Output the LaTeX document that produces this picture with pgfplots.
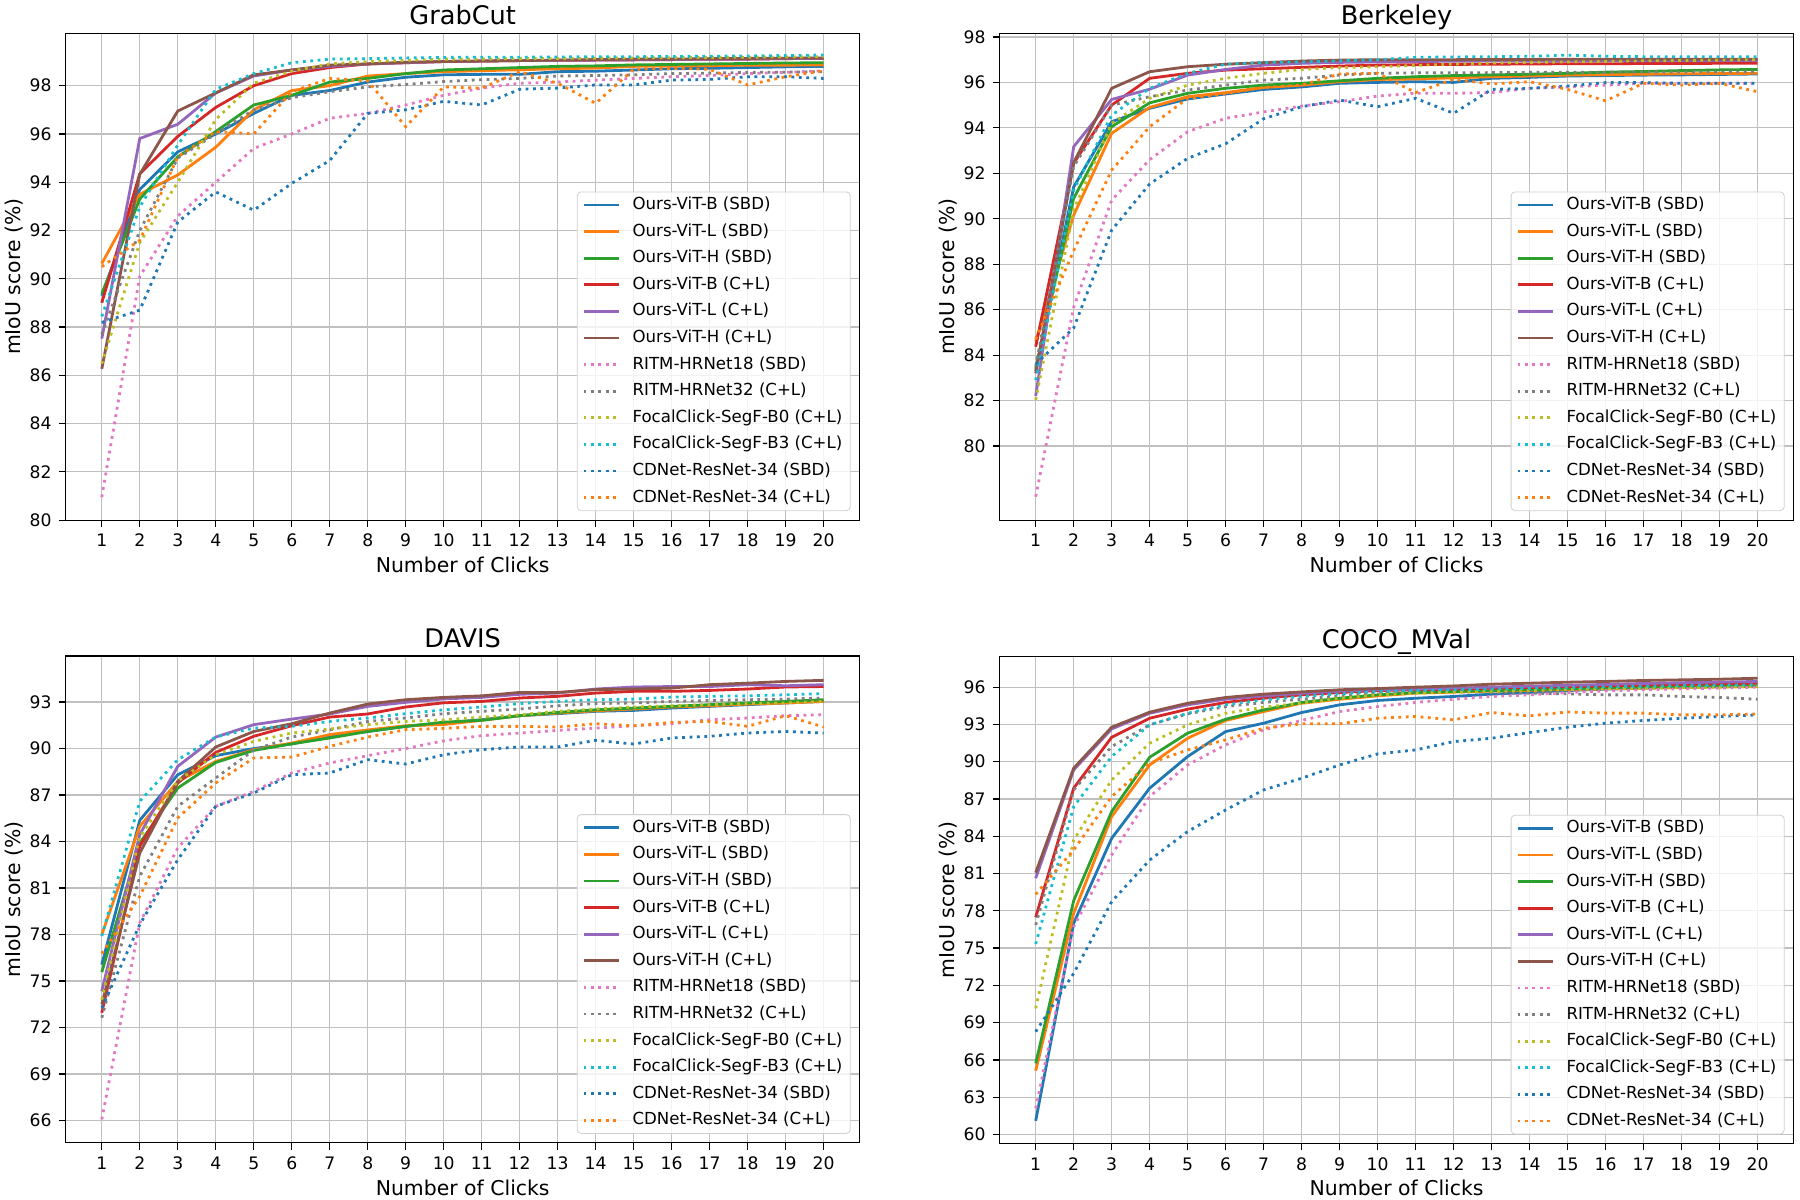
\documentclass[border=0pt]{standalone}
\usepackage{pgfplots}
\usepackage{pgfplotstable}
\pgfplotsset{compat=1.18}
\usepackage{fontspec}
\setmainfont{DejaVu Sans}

\definecolor{C0}{HTML}{1F77B4}
\definecolor{C1}{HTML}{FF7F0E}
\definecolor{C2}{HTML}{2CA02C}
\definecolor{C3}{HTML}{D62728}
\definecolor{C4}{HTML}{9467BD}
\definecolor{C5}{HTML}{8C564B}
\definecolor{C6}{HTML}{E377C2}
\definecolor{C7}{HTML}{7F7F7F}
\definecolor{C8}{HTML}{BCBD22}
\definecolor{C9}{HTML}{17BECF}
\definecolor{gridc}{HTML}{C0C0C0}
\definecolor{legc}{HTML}{D0D0D0}

\pgfplotstableread{
x a b c d e f g h i j k l
1 89.3 90.63 89.38 89.0 87.52 86.27 80.95 87.7 86.48 88.44 88.19 90.5
2 93.7 93.5 93.3 94.35 95.81 94.33 90.1 92.0 91.5 92.98 88.7 91.6
3 95.26 94.3 95.05 95.9 96.4 96.95 92.6 95.0 94.0 95.54 92.35 95.05
4 96.0 95.45 96.1 97.1 97.7 97.7 94.0 96.0 96.6 97.85 93.6 96.1
5 96.85 97.0 97.2 98.0 98.4 98.45 95.4 97.0 98.1 98.5 92.84 96.0
6 97.6 97.8 97.6 98.5 98.65 98.65 96.0 97.5 98.6 98.95 93.95 97.75
7 97.8 98.0 98.15 98.75 98.8 98.85 96.65 97.75 98.9 99.1 94.9 98.3
8 98.15 98.4 98.3 98.9 98.9 98.9 96.85 97.95 99.0 99.12 96.85 98.2
9 98.35 98.5 98.5 98.95 98.95 98.97 97.2 98.05 99.05 99.15 97.0 96.3
10 98.45 98.58 98.65 99.0 99.0 99.0 97.6 98.17 99.1 99.17 97.35 97.95
11 98.47 98.62 98.7 99.02 99.02 99.02 97.9 98.25 99.1 99.18 97.2 97.9
12 98.47 98.66 98.75 99.04 99.04 99.04 98.1 98.3 99.12 99.18 97.85 98.58
13 98.58 98.7 98.8 99.05 99.05 99.06 98.15 98.4 99.13 99.19 97.9 98.1
14 98.6 98.73 98.82 99.06 99.06 99.08 98.23 98.42 99.14 99.2 98.03 97.27
15 98.65 98.8 98.86 99.07 99.07 99.1 98.3 98.45 99.15 99.2 98.03 98.68
16 98.7 98.82 98.88 99.08 99.08 99.1 98.37 98.5 99.16 99.21 98.23 98.72
17 98.72 98.83 98.9 99.1 99.1 99.12 98.42 98.52 99.17 99.22 98.26 98.68
18 98.75 98.85 98.92 99.1 99.1 99.13 98.5 98.55 99.18 99.23 98.37 98.03
19 98.78 98.85 98.94 99.12 99.12 99.14 98.55 98.56 99.19 99.25 98.37 98.37
20 98.8 98.86 98.95 99.13 99.14 99.15 98.62 98.58 99.2 99.27 98.3 98.62
}\grab

\pgfplotstableread{
x a b c d e f g h i j k l
1 83.3 84.6 83.4 84.37 82.2 83.2 77.77 83.5 82.03 82.9 83.6 84.7
2 91.4 90.16 90.9 92.44 93.17 92.47 86.1 92.3 90.4 91.26 85.2 88.6
3 94.27 93.76 94.05 95.0 95.25 95.74 90.82 95.0 94.2 94.56 89.5 92.14
4 94.86 94.9 95.1 96.18 95.7 96.47 92.6 95.37 95.3 95.74 91.53 94.05
5 95.27 95.37 95.52 96.4 96.32 96.69 93.83 95.66 95.88 96.4 92.66 95.3
6 95.49 95.55 95.74 96.54 96.57 96.8 94.42 95.88 96.18 96.8 93.3 95.5
7 95.69 95.78 95.88 96.6 96.76 96.87 94.7 96.1 96.4 96.88 94.4 95.78
8 95.8 95.88 95.96 96.66 96.84 96.94 94.96 96.18 96.57 96.9 94.93 95.88
9 95.96 96.03 96.07 96.72 96.88 96.98 95.15 96.32 96.65 96.95 95.22 96.37
10 96.0 96.13 96.18 96.76 96.9 97.0 95.4 96.4 96.69 97.0 94.93 96.4
11 96.03 96.15 96.25 96.78 96.92 97.0 95.52 96.42 96.75 97.1 95.3 95.55
12 96.0 96.2 96.3 96.79 96.93 97.0 95.52 96.42 96.8 97.12 94.64 96.13
13 96.18 96.25 96.33 96.8 96.94 97.01 95.55 96.43 96.85 97.13 95.69 95.93
14 96.22 96.28 96.36 96.81 96.94 97.01 95.74 96.44 96.88 97.15 95.74 96.03
15 96.28 96.32 96.4 96.82 96.95 97.02 95.8 96.45 96.9 97.2 95.84 95.69
16 96.3 96.34 96.45 96.82 96.95 97.02 95.88 96.45 96.92 97.15 95.99 95.19
17 96.32 96.36 96.48 96.83 96.95 97.02 95.96 96.46 96.95 97.13 95.99 95.96
18 96.33 96.38 96.52 96.83 96.95 97.02 95.96 96.46 96.96 97.13 95.96 95.88
19 96.35 96.39 96.55 96.84 96.96 97.02 95.96 96.47 96.98 97.13 95.96 95.96
20 96.37 96.4 96.57 96.84 96.96 97.02 95.96 96.47 97.0 97.13 95.96 95.59
}\berk

\pgfplotstableread{
x a b c d e f g h i j k l
1 76.06 78.0 75.57 72.95 74.35 73.49 66.07 72.63 73.8 77.9 73.27 76.77
2 85.37 84.98 83.9 83.7 84.45 83.26 78.75 81.76 84.3 86.6 78.64 80.47
3 88.31 87.88 87.45 87.78 88.85 87.88 83.59 86.27 87.9 89.28 82.83 85.52
4 89.54 89.17 89.1 89.75 90.74 90.1 86.27 88.1 89.6 90.74 86.27 87.78
5 90.0 89.93 89.88 90.79 91.54 91.1 87.24 89.9 90.46 91.32 87.13 89.39
6 90.3 90.35 90.3 91.47 91.9 91.6 88.42 90.74 91.0 91.43 88.31 89.45
7 90.8 90.9 90.68 92.03 92.23 92.29 89.07 91.2 91.26 91.75 88.42 90.14
8 91.1 91.2 91.1 92.23 92.72 92.87 89.54 91.75 91.54 91.97 89.28 90.74
9 91.43 91.47 91.43 92.68 92.98 93.15 90.0 91.97 91.75 92.25 89.0 91.22
10 91.65 91.55 91.7 92.95 93.2 93.3 90.5 92.25 91.85 92.5 89.6 91.3
11 91.86 91.82 91.82 93.04 93.3 93.4 90.83 92.4 92.03 92.68 89.93 91.43
12 92.12 92.12 92.12 93.26 93.5 93.62 91.0 92.55 92.18 92.9 90.1 91.43
13 92.25 92.29 92.33 93.37 93.58 93.62 91.17 92.76 92.4 93.04 90.1 91.39
14 92.4 92.44 92.5 93.58 93.84 93.8 91.32 92.9 92.55 93.15 90.53 91.6
15 92.46 92.55 92.61 93.69 93.97 93.84 91.47 92.94 92.68 93.19 90.29 91.47
16 92.61 92.68 92.72 93.69 94.0 93.9 91.6 93.04 92.76 93.32 90.68 91.69
17 92.72 92.76 92.83 93.75 94.0 94.12 91.86 93.1 92.83 93.37 90.79 91.75
18 92.83 92.87 92.94 93.84 94.12 94.22 91.97 93.15 92.9 93.4 91.0 91.43
19 92.94 92.94 93.04 93.97 94.05 94.33 92.12 93.19 92.94 93.47 91.1 92.12
20 93.04 93.04 93.15 94.0 94.12 94.4 92.18 93.26 93.04 93.54 91.0 91.39
}\davis

\pgfplotstableread{
x a b c d e f g h i j k l
1 61.1 65.13 65.72 77.48 80.62 81.07 62.1 76.86 70.15 75.33 68.27 79.33
2 77.0 77.8 78.82 87.87 89.34 89.48 76.73 87.73 83.7 86.39 72.97 82.9
3 83.84 85.58 85.99 91.97 92.64 92.78 82.5 91.22 88.54 90.42 78.74 87.2
4 87.87 89.74 90.36 93.5 93.9 93.99 87.2 92.97 91.49 92.97 82.09 89.88
5 90.42 91.89 92.3 94.23 94.58 94.71 89.74 93.85 92.97 93.9 84.38 90.95
6 92.43 93.32 93.42 94.77 95.03 95.17 91.36 94.44 93.9 94.58 86.12 91.76
7 93.1 94.04 94.17 95.11 95.3 95.44 92.56 94.77 94.39 94.98 87.73 92.7
8 93.96 94.71 94.77 95.38 95.5 95.62 93.32 95.03 94.71 95.25 88.67 93.05
9 94.58 95.03 95.11 95.57 95.68 95.79 94.04 95.3 95.11 95.46 89.74 93.05
10 94.93 95.3 95.38 95.73 95.79 95.89 94.44 95.52 95.38 95.65 90.63 93.5
11 95.11 95.52 95.57 95.79 95.84 96.0 94.77 95.65 95.52 95.73 90.95 93.64
12 95.25 95.6 95.65 95.85 95.92 96.1 95.03 95.65 95.6 95.79 91.62 93.37
13 95.44 95.68 95.72 95.92 96.0 96.24 95.25 95.57 95.67 95.84 91.89 93.96
14 95.57 95.75 95.8 95.98 96.08 96.32 95.38 95.52 95.73 95.9 92.35 93.69
15 95.73 95.82 95.87 96.04 96.15 96.4 95.57 95.46 95.8 95.96 92.78 94.01
16 95.84 95.88 95.93 96.1 96.22 96.46 95.7 95.38 95.86 96.02 93.1 93.91
17 95.92 95.93 95.98 96.16 96.3 96.54 95.79 95.38 95.91 96.07 93.32 93.91
18 96.0 95.98 96.02 96.22 96.36 96.59 95.87 95.25 95.96 96.12 93.5 93.77
19 96.05 96.02 96.06 96.27 96.41 96.64 95.92 95.17 96.0 96.16 93.64 93.77
20 96.1 96.05 96.1 96.32 96.46 96.72 96.0 95.03 96.05 96.19 93.77 93.85
}\coco

\pgfplotsset{
  sol/.style={line width=1.4pt, #1},
  dot/.style={line width=1.4pt, dash pattern=on 1.4pt off 2.3pt, #1},
  panel/.style={
    scale only axis, width=397pt, height=243.4pt,
    xmin=0.05, xmax=20.95, xtick={1,...,20},
    grid=major, major grid style={line width=0.6pt, draw=gridc},
    axis line style={line width=0.6pt, black},
    tick align=outside, tick pos=left, major tick length=3.5pt,
    tick style={line width=0.6pt, black},
    ticklabel style={font=\fontsize{8.6}{10}\selectfont},
    /pgf/number format/assume math mode=true,
    xlabel={Number of Clicks}, ylabel={mIoU score (\%)},
    label style={font=\fontsize{10.2}{12}\selectfont},
    xlabel style={yshift=2pt},
    ylabel shift=-3.5pt,
    every axis title/.style={at={(0.5,1)}, anchor=base, yshift=4.2pt,
      font=\fontsize{12.8}{15}\selectfont},
    every axis plot/.append style={no markers},
    legend cell align=left,
    legend image code/.code={\draw[#1] (0pt,0pt) -- (17.8pt,0pt);},
    legend style={at={(0.9887,0.0185)}, anchor=south east,
      draw=legc, rounded corners=2pt, fill=white,
      fill opacity=0.8, text opacity=1,
      font=\fontsize{8.3}{10}\selectfont,
      inner xsep=2.5pt, inner ysep=1pt,
      row sep=2.2pt, column sep=4.5pt,
      nodes={inner sep=1.5pt, text height=6.3pt, text depth=1.8pt}},
  }
}

\newcommand{\allplots}[1]{%
  \addplot[sol=C0] table[x=x,y=a]{#1};
  \addplot[sol=C1] table[x=x,y=b]{#1};
  \addplot[sol=C2] table[x=x,y=c]{#1};
  \addplot[sol=C3] table[x=x,y=d]{#1};
  \addplot[sol=C4] table[x=x,y=e]{#1};
  \addplot[sol=C5] table[x=x,y=f]{#1};
  \addplot[dot=C6] table[x=x,y=g]{#1};
  \addplot[dot=C7] table[x=x,y=h]{#1};
  \addplot[dot=C8] table[x=x,y=i]{#1};
  \addplot[dot=C9] table[x=x,y=j]{#1};
  \addplot[dot=C0] table[x=x,y=k]{#1};
  \addplot[dot=C1] table[x=x,y=l]{#1};
  \legend{Ours-ViT-B (SBD),Ours-ViT-L (SBD),Ours-ViT-H (SBD),Ours-ViT-B (C+L),Ours-ViT-L (C+L),Ours-ViT-H (C+L),RITM-HRNet18 (SBD),RITM-HRNet32 (C+L),FocalClick-SegF-B0 (C+L),FocalClick-SegF-B3 (C+L),CDNet-ResNet-34 (SBD),CDNet-ResNet-34 (C+L)}
}

\begin{document}
\begin{tikzpicture}
\useasboundingbox (0,0) rectangle (900pt,-600pt);

\begin{axis}[panel, at={(32.85pt,-16.65pt)}, anchor=north west,
  title={GrabCut}, ymin=80, ymax=100.17, ytick={80,82,...,98}]
\allplots{\grab}
\end{axis}

\begin{axis}[panel, at={(499.8pt,-16.65pt)}, anchor=north west,
  title={Berkeley}, ymin=76.74, ymax=98.16, ytick={80,82,...,98}]
\allplots{\berk}
\end{axis}

\begin{axis}[panel, at={(32.85pt,-328pt)}, anchor=north west,
  title={DAVIS}, ymin=64.56, ymax=95.97, ytick={66,69,...,96}]
\allplots{\davis}
\end{axis}

\begin{axis}[panel, at={(499.8pt,-328.3pt)}, anchor=north west,
  title={COCO\_MVal}, ymin=59.28, ymax=98.46, ytick={60,63,...,96}]
\allplots{\coco}
\end{axis}
\end{tikzpicture}
\end{document}
